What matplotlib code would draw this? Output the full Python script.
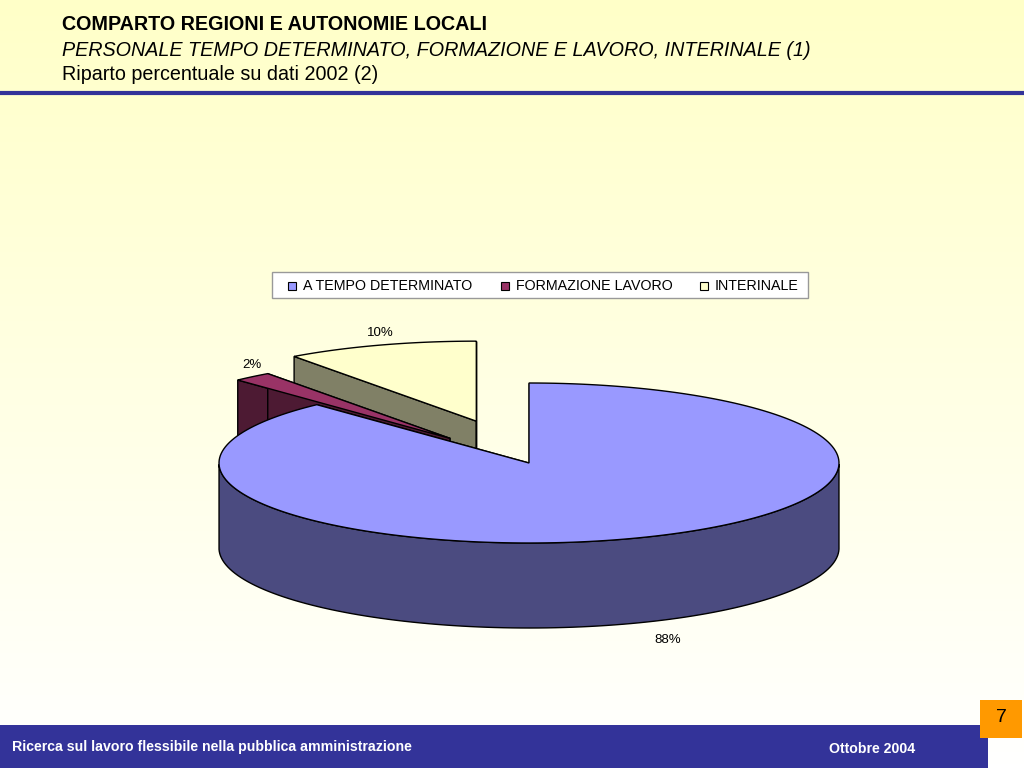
import numpy as np
import matplotlib
matplotlib.use("Agg")
import matplotlib.pyplot as plt
from matplotlib.patches import Polygon, Rectangle
from matplotlib.colors import LinearSegmentedColormap

labels = ["A TEMPO DETERMINATO", "FORMAZIONE LAVORO", "INTERINALE"]
values = [88, 2, 10]
pct_labels = ["88%", "2%", "10%"]
top_colors = ["#9999FF", "#993366", "#FFFFCC"]
side_colors = ["#4B4B80", "#4D1A33", "#808066"]
explode = [0.0, 0.4, 0.55]

fig = plt.figure(figsize=(10.24, 7.68), dpi=100)
ax = fig.add_axes([0, 0, 1, 1])
ax.set_xlim(0, 1024); ax.set_ylim(768, 0); ax.axis("off")
grad = np.linspace(0, 1, 256)[:, None]
cm = LinearSegmentedColormap.from_list("g", ["#FFFFC8", "#FFFFFF"])
ax.imshow(grad, cmap=cm, extent=[0, 1024, 768, 0], aspect="auto", zorder=0)

F = "Liberation Sans"
ax.text(62, 24, "COMPARTO REGIONI E AUTONOMIE LOCALI", fontsize=14.2, weight="bold", va="center", family=F)
ax.text(62, 50, "PERSONALE TEMPO DETERMINATO, FORMAZIONE E LAVORO, INTERINALE (1)", fontsize=14.2, style="italic", va="center", family=F)
ax.text(62, 74, "Riparto percentuale su dati 2002 (2)", fontsize=14.2, va="center", family=F)
ax.plot([0, 1024], [93, 93], color="#333399", lw=3)

cx, cy, rx, ry, depth = 529, 463, 310, 80, 85
def pt(t, ox, oy, dz=0):
    return (cx + ox + rx*np.sin(t), cy + oy - ry*np.cos(t) + dz)

fr = np.cumsum([0] + values) / sum(values) * 2*np.pi
for i in [2, 1, 0]:
    t0, t1 = fr[i], fr[i+1]
    tm = (t0 + t1)/2
    ox, oy = explode[i]*rx*np.sin(tm), -explode[i]*ry*np.cos(tm)
    c = (cx+ox, cy+oy)
    ts = np.linspace(t0, t1, 200)
    for t in (t0, t1):
        p = pt(t, ox, oy)
        ax.add_patch(Polygon([c, p, (p[0], p[1]+depth), (c[0], c[1]+depth)], closed=True,
                             fc=side_colors[i], ec="black", lw=1, zorder=2))
    tf = ts[(np.mod(ts, 2*np.pi) > np.pi/2) & (np.mod(ts, 2*np.pi) < 3*np.pi/2)]
    if len(tf):
        top = [pt(t, ox, oy) for t in tf]
        bot = [pt(t, ox, oy, depth) for t in tf[::-1]]
        ax.add_patch(Polygon(top+bot, closed=True, fc=side_colors[i], ec="black", lw=1, zorder=3))
    ax.add_patch(Polygon([c] + [pt(t, ox, oy) for t in ts], closed=True,
                         fc=top_colors[i], ec="black", lw=1, zorder=4))
    if i == 0:
        lx, ly = 668, cy + ry + depth + 12
    else:
        lx, ly = cx + ox + 1.0*rx*np.sin(tm), cy + oy - 1.0*ry*np.cos(tm) - 12
    ax.text(lx, ly, pct_labels[i], fontsize=9.5, ha="center", va="center", family=F, zorder=5)

ax.add_patch(Rectangle((272, 272), 536, 26, fc="white", ec="#999999", lw=1, zorder=5))
for x, lab, col in zip([288, 501, 700], labels, top_colors):
    ax.add_patch(Rectangle((x, 282), 8, 8, fc=col, ec="black", lw=0.8, zorder=6))
    ax.text(x+15, 286, lab, fontsize=10.3, va="center", family=F, zorder=6)

ax.add_patch(Rectangle((0, 725), 988, 43, fc="#333399", ec="none", zorder=5))
ax.text(12, 747, "Ricerca sul lavoro flessibile nella pubblica amministrazione", color="white",
        fontsize=10.2, weight="bold", va="center", family=F, zorder=6)
ax.text(872, 749, "Ottobre 2004", color="white", fontsize=10.2, weight="bold", va="center", ha="center",
        family=F, zorder=6)
ax.add_patch(Rectangle((980, 700), 42, 38, fc="#FF9900", ec="none", zorder=6))
ax.text(1001, 718, "7", fontsize=14, ha="center", va="center", family=F, zorder=7)

fig.savefig("out.png", dpi=100)
